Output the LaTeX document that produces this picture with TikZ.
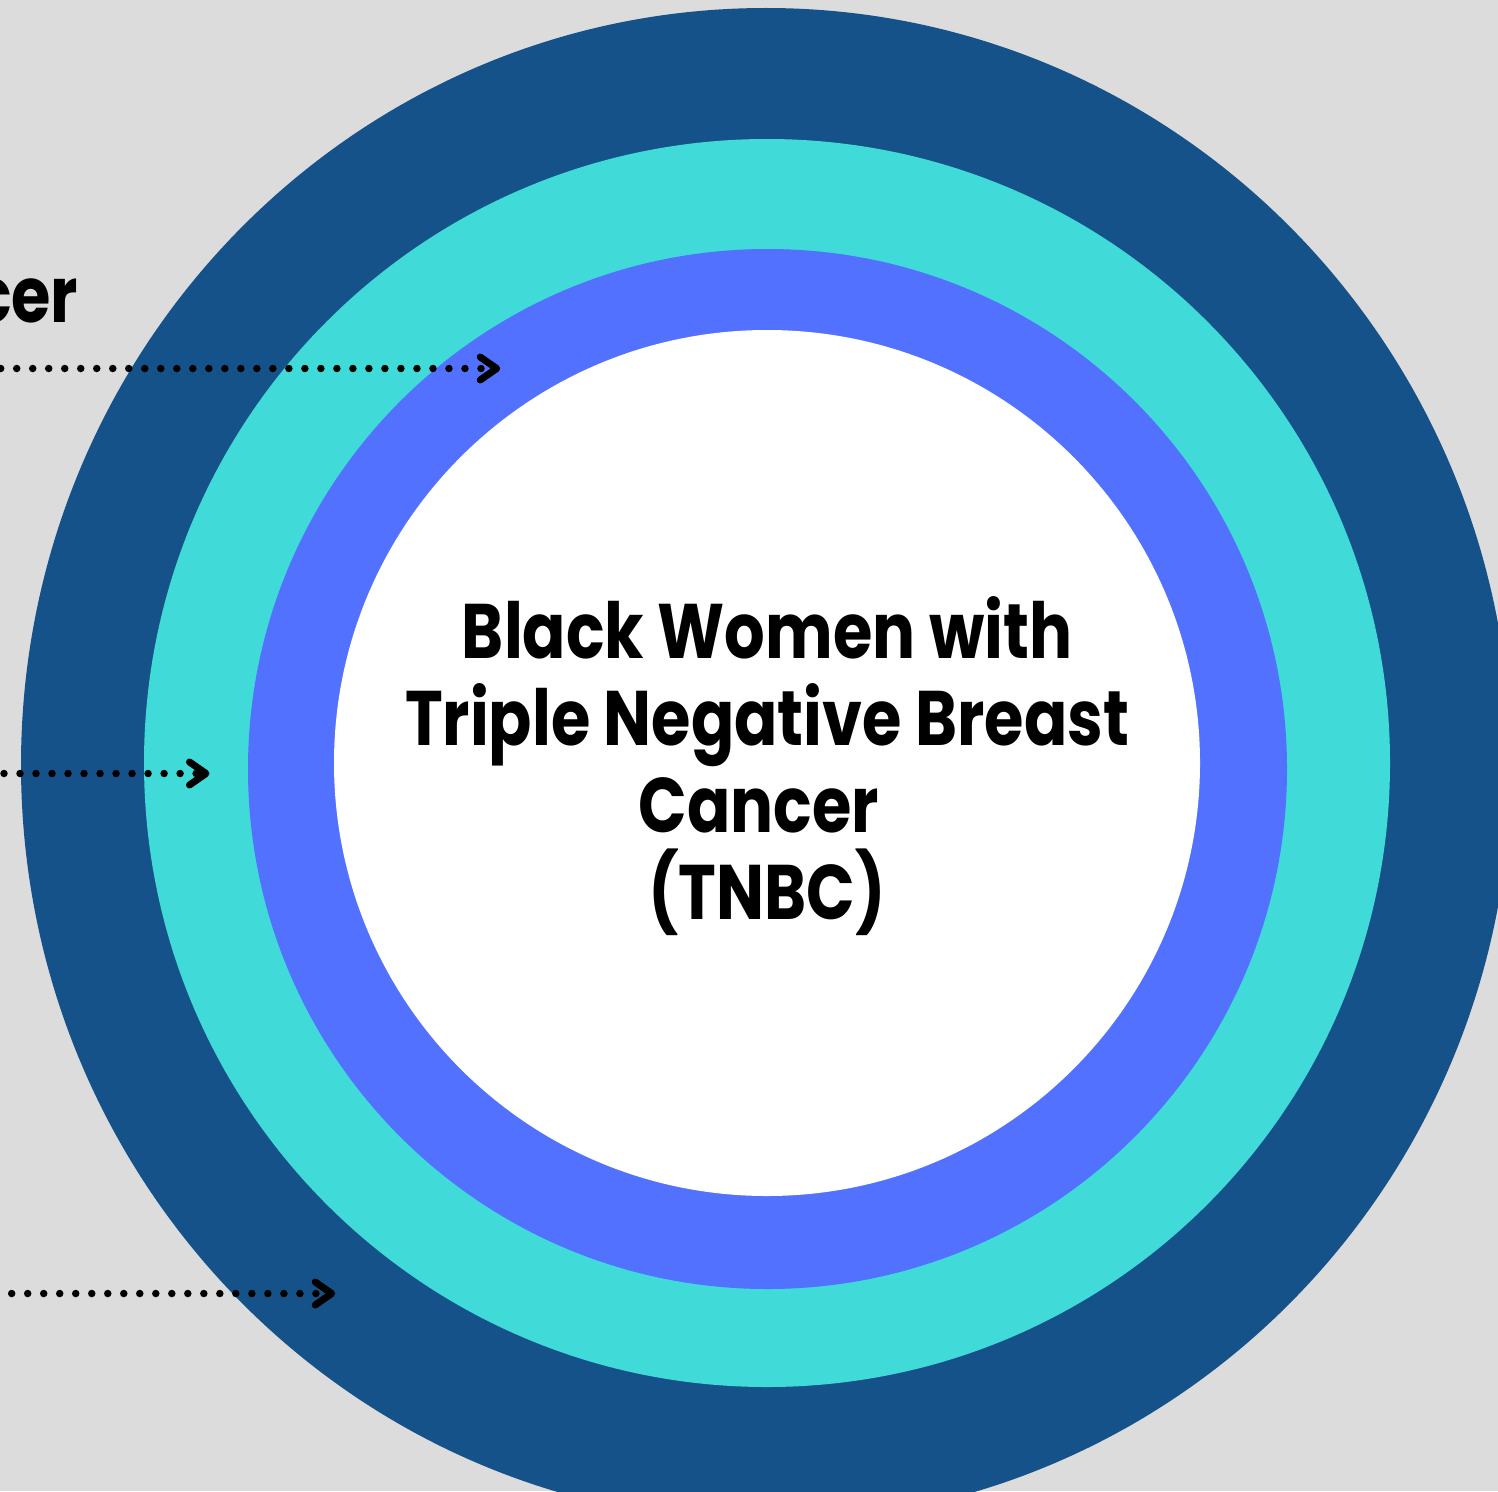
\documentclass[tikz,border=0pt]{standalone}
\usepackage{fontspec}
\setmainfont{Poppins}[FakeStretch=0.825,BoldFeatures={FakeStretch=0.825}]
\begin{document}
\begin{tikzpicture}[x=0.01cm,y=-0.01cm,
  lbl/.style={inner sep=0pt,text=black,font=\bfseries\fontsize{22}{24.75}\selectfont},
  dotline/.style={line width=0.075cm,line cap=round,dash pattern=on 0pt off 0.16cm},
  chev/.style={line width=0.07cm,line cap=round,line join=round}]
\definecolor{bgc}{HTML}{DCDCDC}
\definecolor{navyc}{HTML}{155289}
\definecolor{cyanc}{HTML}{40DAD8}
\definecolor{bluec}{HTML}{5271FF}
\useasboundingbox (0,0) rectangle (1498,1491);
\clip (0,0) rectangle (1498,1491);
\fill[bgc] (0,0) rectangle (1498,1491);
\fill[navyc] (766,765) ellipse [x radius=745, y radius=757];
\fill[cyanc] (767,763) ellipse [x radius=623, y radius=624];
\fill[bluec] (767.5,769) ellipse [x radius=519.5, y radius=520];
\fill[white] (767,763) ellipse [x radius=433, y radius=433];
\node[lbl,align=center] (core) at (767,766) {Black Women with\\Triple Negative Breast\\Cancer\hbox{\kern0.16cm}\\(TNBC)};
\node[lbl,anchor=base east] (cer) at (79,322) {cer};
\coordinate (s1) at (0.7,368.5); \coordinate (t1) at (496.7,368.5);
\coordinate (s2) at (4,773.5); \coordinate (t2) at (206,773.5);
\coordinate (s3) at (11.7,1293.5); \coordinate (t3) at (331.7,1293.5);
\foreach \i in {1,2,3}{
  \draw[dotline] (s\i) -- (t\i);
  \draw[chev] (t\i) ++(-16.5,-11.5) -- (t\i) -- ++(-16.5,11.5);
}
\end{tikzpicture}
\end{document}
